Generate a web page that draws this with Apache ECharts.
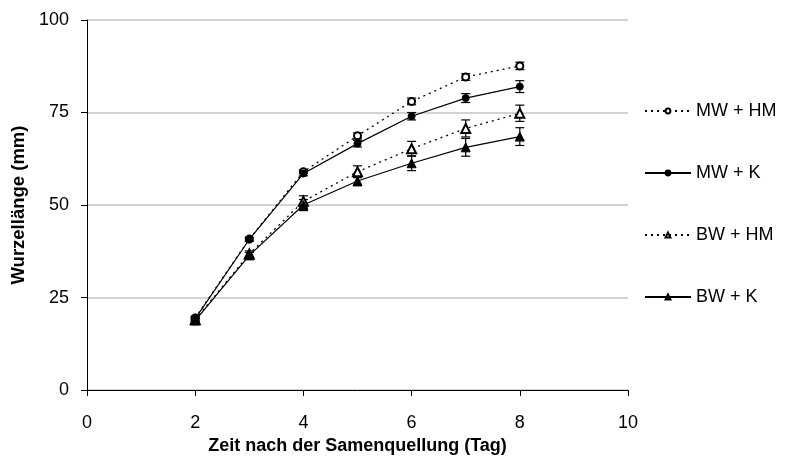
<!DOCTYPE html>
<html>
<head>
<meta charset="utf-8">
<script src="https://cdn.jsdelivr.net/npm/echarts@6/dist/echarts.min.js"></script>
<style>html,body{margin:0;padding:0;background:#fff}#c{width:789px;height:460px}</style>
</head>
<body>
<div id="c"></div>
<script>
var days = [2, 3, 4, 5, 6, 7, 8];
var mwHM = [19.5, 40.8, 59.0, 68.7, 78.0, 84.6, 87.6];
var mwK = [19.3, 40.7, 58.5, 66.6, 74.0, 78.9, 82.0];
var bwHM = [19.0, 36.8, 51.0, 59.0, 65.2, 70.7, 74.8];
var bwK = [18.8, 36.4, 50.0, 56.5, 61.3, 65.6, 68.5];
var mwHMErr = [0.5, 0.5, 0.5, 0.8, 0.9, 0.9, 1.0];
var mwKErr = [0.5, 0.5, 0.6, 0.9, 1.0, 1.2, 1.6];
var bwHMErr = [0.5, 0.8, 1.5, 1.6, 2.0, 2.3, 2.2];
var bwKErr = [0.5, 0.8, 1.5, 1.3, 2.0, 2.4, 2.4];
var names = ['MW + HM', 'MW + K', 'BW + HM', 'BW + K'];
var xTicks = [0, 2, 4, 6, 8, 10];
var yTicks = [0, 25, 50, 75, 100];

var FONT = 'Liberation Sans, Arial, sans-serif';

function pairs(vals) { return days.map(function (d, i) { return [d, vals[i]]; }); }
function errData(vals, errs) { return days.map(function (d, i) { return [d, vals[i] - errs[i], vals[i] + errs[i]]; }); }

function errSeries(vals, errs) {
  return {
    type: 'custom',
    data: errData(vals, errs),
    z: 3,
    silent: true,
    renderItem: function (params, api) {
      var x = api.value(0);
      var lo = api.coord([x, api.value(1)]);
      var hi = api.coord([x, api.value(2)]);
      var w = 4.5;
      var st = { stroke: '#000', lineWidth: 1.2 };
      return {
        type: 'group',
        children: [
          { type: 'line', shape: { x1: lo[0], y1: lo[1], x2: hi[0], y2: hi[1] }, style: st },
          { type: 'line', shape: { x1: lo[0] - w, y1: lo[1], x2: lo[0] + w, y2: lo[1] }, style: st },
          { type: 'line', shape: { x1: hi[0] - w, y1: hi[1], x2: hi[0] + w, y2: hi[1] }, style: st }
        ]
      };
    },
    encode: { x: 0, y: [1, 2] }
  };
}

function lineSeries(name, vals, symbol, size, dotted) {
  return {
    name: name,
    type: 'line',
    data: pairs(vals),
    symbol: symbol,
    symbolSize: size,
    showAllSymbol: true,
    z: 4,
    itemStyle: { color: '#000', borderColor: '#000', borderWidth: 1 },
    lineStyle: { color: '#000', width: dotted ? 1.3 : 1.2, type: dotted ? [2, 4] : 'solid' },
    emphasis: { disabled: true },
    animation: false
  };
}

var chart = echarts.init(document.getElementById('c'), null, { renderer: 'canvas' });
chart.setOption({
  animation: false,
  backgroundColor: '#fff',
  textStyle: { fontFamily: FONT },
  grid: { left: 87, right: 161, top: 20, bottom: 69 },
  legend: {
    orient: 'vertical',
    left: 639,
    top: 96,
    itemWidth: 46,
    itemHeight: 6,
    itemGap: 42,
    data: names,
    textStyle: { fontFamily: FONT, fontSize: 18, color: '#000', lineHeight: 20 },
    selectedMode: false
  },
  xAxis: {
    type: 'value',
    min: 0, max: 10, interval: 2,
    name: 'Zeit nach der Samenquellung (Tag)',
    nameLocation: 'middle',
    nameGap: 46,
    nameTextStyle: { fontFamily: FONT, fontSize: 18, fontWeight: 'bold', color: '#000' },
    axisLine: { show: true, lineStyle: { color: '#000', width: 1 } },
    axisTick: { show: true, length: 6, lineStyle: { color: '#000' } },
    axisLabel: { fontFamily: FONT, fontSize: 18, color: '#000', margin: 24,
      formatter: function (v) { return xTicks.indexOf(v) >= 0 ? String(v) : ''; } },
    splitLine: { show: false }
  },
  yAxis: {
    type: 'value',
    min: 0, max: 100, interval: 25,
    name: 'Wurzellänge (mm)',
    nameLocation: 'middle',
    nameGap: 54,
    nameTextStyle: { fontFamily: FONT, fontSize: 18.5, fontWeight: 'bold', color: '#000' },
    axisLine: { show: true, lineStyle: { color: '#000', width: 1 } },
    axisTick: { show: true, length: 6, lineStyle: { color: '#000' } },
    axisLabel: { fontFamily: FONT, fontSize: 18, color: '#000', margin: 18,
      formatter: function (v) { return yTicks.indexOf(v) >= 0 ? String(v) : ''; } },
    splitLine: { show: true, lineStyle: { color: '#c4c4c4', width: 1.5 } }
  },
  series: [
    lineSeries(names[0], mwHM, 'emptyCircle', 7, true),
    lineSeries(names[1], mwK, 'circle', 7, false),
    lineSeries(names[2], bwHM, 'emptyTriangle', 9, true),
    lineSeries(names[3], bwK, 'triangle', 9, false),
    errSeries(mwHM, mwHMErr),
    errSeries(mwK, mwKErr),
    errSeries(bwHM, bwHMErr),
    errSeries(bwK, bwKErr)
  ]
});
</script>
</body>
</html>
